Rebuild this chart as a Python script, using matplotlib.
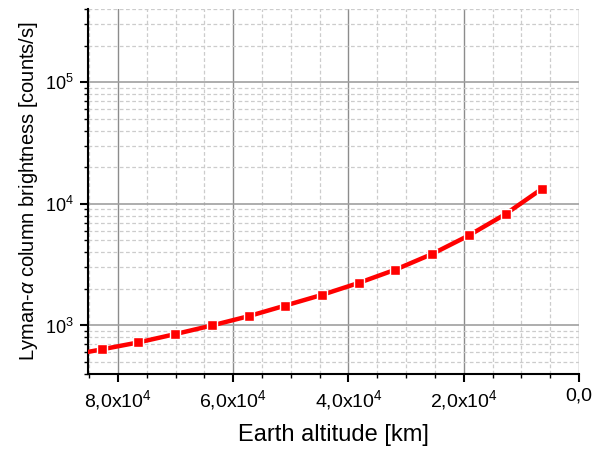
import math
import matplotlib
matplotlib.use("Agg")
import matplotlib.pyplot as plt
from matplotlib.ticker import FixedLocator, MultipleLocator, FuncFormatter, LogLocator, NullFormatter

plt.rcParams['font.family'] = ['Liberation Sans', 'DejaVu Sans']
plt.rcParams['mathtext.fontset'] = 'custom'
plt.rcParams['mathtext.rm'] = 'Liberation Sans'
plt.rcParams['mathtext.it'] = 'Liberation Sans:italic'

# altitude in km (multiples of Earth radius) and Lyman-alpha brightness
altitude = [89194, 82823, 76452, 70081, 63710, 57339, 50968, 44597,
            38226, 31855, 25484, 19113, 12742, 6371]
brightness = [560, 636, 726, 849, 1000, 1192, 1458, 1785,
              2238, 2877, 3870, 5497, 8240, 13350]

xticks = [80000, 60000, 40000, 20000, 0]
xticklabels = ['8,0x10$^{4}$', '6,0x10$^{4}$', '4,0x10$^{4}$', '2,0x10$^{4}$', '0,0']


def xfmt(v, pos):
    v = int(round(v))
    return xticklabels[xticks.index(v)] if v in xticks else ''


fig = plt.figure(figsize=(5.95, 4.51), dpi=100)
ax = fig.add_axes([0.148, 0.171, 0.825, 0.809])

ax.plot(altitude, brightness, color='#ff0000', lw=3.2, marker='s', ms=7.5,
        mfc='#ff0000', mec='white', mew=1, zorder=3)

ax.set_yscale('log')
ax.set_xlim(85200, 0)
ax.set_ylim(400, 4e5)

ax.xaxis.set_major_locator(FixedLocator(xticks))
ax.xaxis.set_major_formatter(FuncFormatter(xfmt))
ax.xaxis.set_minor_locator(MultipleLocator(5000))

ax.yaxis.set_major_locator(LogLocator(base=10, numticks=10))
ax.yaxis.set_major_formatter(FuncFormatter(lambda v, p: '10$^{%d}$' % round(math.log10(v))))
ax.yaxis.set_minor_locator(LogLocator(base=10, subs=range(2, 10), numticks=20))
ax.yaxis.set_minor_formatter(NullFormatter())

ax.grid(which='major', axis='x', color='#8c8c8c', lw=1, ls='-')
ax.grid(which='major', axis='y', color='#a0a0a0', lw=1.2, ls='-')
ax.grid(which='minor', color='#cccccc', lw=0.9, ls=(0, (3, 2)))
ax.set_axisbelow(True)

for s in ['top', 'right']:
    ax.spines[s].set_visible(False)
for s in ['left', 'bottom']:
    ax.spines[s].set_linewidth(1.5)
    ax.spines[s].set_color('black')

ax.tick_params(which='major', direction='out', length=6, width=1.5, pad=4)
ax.tick_params(axis='x', which='major', labelsize=14)
ax.tick_params(axis='y', which='major', labelsize=13)
ax.tick_params(which='minor', direction='out', length=3, width=1)

ax.set_xlabel('Earth altitude [km]', fontsize=17, labelpad=9)
ax.set_ylabel(r'Lyman-$\alpha$ column brightness [counts/s]', fontsize=14.5, labelpad=4)

fig.savefig('out.png', dpi=100)
